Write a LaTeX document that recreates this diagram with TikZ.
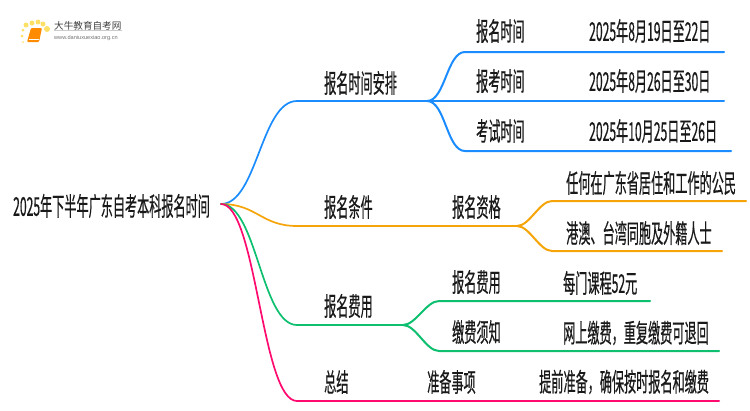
\documentclass[tikz,border=0pt]{standalone}
\usepackage{fontspec}
\setmainfont[FakeStretch=0.47,FakeBold=0.4]{Noto Sans CJK SC}
\newfontfamily\logofont{Noto Sans CJK SC}
\newfontfamily\urlfont{Liberation Sans}
\usetikzlibrary{arrows.meta}
\definecolor{bluebr}{HTML}{1A8CFF}
\definecolor{orangebr}{HTML}{F5A50A}
\definecolor{greenbr}{HTML}{0DBF6E}
\definecolor{pinkbr}{HTML}{FF0A6E}
\tikzset{
    lbl/.style={anchor=west,inner sep=0pt,text=black!90,font=\fontsize{25.8}{28}\selectfont},
    branch/.style={line width=2pt,line cap=round},
    trunk/.style={line width=1.7pt,line cap=round,out=0,in=180},
    twig/.style={branch,out=0,in=180,looseness=0.75},
    sun/.style={circle,fill=orange!40!yellow,opacity=0.6,inner sep=0pt}
}
\begin{document}
\begin{tikzpicture}[x=1pt,y=-1pt]
    \useasboundingbox (0,0) rectangle (750,410);
    % logo
    \node[sun,minimum size=5pt] (suna) at (26,25) {};
    \node[sun,minimum size=5pt] (sunb) at (32,23) {};
    \node[sun,minimum size=5pt] (sunc) at (38,22) {};
    \node[sun,minimum size=5pt] (sund) at (43,24) {};
    \node[sun,minimum size=6pt] (sune) at (47,29) {};
    \node[sun,minimum size=3pt] (sunf) at (23,30) {};
    \node[sun,minimum size=3pt] (sung) at (22,36) {};
    \node[sun,minimum size=2pt] (sunh) at (23,42) {};
    \fill[orange!90!yellow,rounded corners=1pt] (31,28) -- (42,28) -- (39,42) -- (27,42) -- cycle;
    \draw[white,line width=0.5pt] (29,39) -- (39,39);
    \node[anchor=west,inner sep=0pt,text=black!75,font=\logofont\fontsize{9.6}{10}\selectfont] (logoname) at (54,26) {大牛教育自考网};
    \node[anchor=west,inner sep=0pt,text=black!55,font=\urlfont\fontsize{5.6}{6}\selectfont] (logourl) at (54,38.5) {www.daniuxuexiao.org.cn};
    \draw[black!20,line width=0.5pt] (logoname.south west) -- (logoname.south east);
    % nodes
    \node[lbl] (root) at (13,206) {2025年下半年广东自考本科报名时间};
    \node[lbl] (timeplan) at (324,83) {报名时间安排};
    \node[lbl] (signup) at (476,31) {报名时间};
    \node[lbl] (signupdate) at (589,31) {2025年8月19日至22日};
    \node[lbl] (exam) at (476,81) {报考时间};
    \node[lbl] (examdate) at (589,81) {2025年8月26日至30日};
    \node[lbl] (test) at (476,131) {考试时间};
    \node[lbl] (testdate) at (589,131) {2025年10月25日至26日};
    \node[lbl] (cond) at (324,207) {报名条件};
    \node[lbl] (qual) at (452,207) {报名资格};
    \node[lbl] (quala) at (566,183) {任何在广东省居住和工作的公民};
    \node[lbl] (qualb) at (566,233) {港澳、台湾同胞及外籍人士};
    \node[lbl] (fee) at (324,306) {报名费用};
    \node[lbl] (feea) at (452,282) {报名费用};
    \node[lbl] (feeaval) at (563,283) {每门课程52元};
    \node[lbl] (feeb) at (452,332) {缴费须知};
    \node[lbl] (feebval) at (563,333) {网上缴费，重复缴费可退回};
    \node[lbl] (summ) at (324,382) {总结};
    \node[lbl] (prep) at (427,382) {准备事项};
    \node[lbl] (prepval) at (539,382) {提前准备，确保按时报名和缴费};
    % joints
    \coordinate (start) at (221,204);
    \coordinate (timeleft) at (297,101);
    \coordinate (timejoint) at (427,101);
    \coordinate (signupleft) at (465,52);
    \coordinate (signupend) at (724,52);
    \coordinate (examend) at (724,101);
    \coordinate (testleft) at (465,151);
    \coordinate (testend) at (731,151);
    \coordinate (condleft) at (297,226);
    \coordinate (condjoint) at (517,226);
    \coordinate (qualaleft) at (552,201);
    \coordinate (qualaend) at (746,201);
    \coordinate (qualbleft) at (552,251);
    \coordinate (qualbend) at (722,251);
    \coordinate (feeleft) at (297,325);
    \coordinate (feejoint) at (403,325);
    \coordinate (fealeft) at (439,301);
    \coordinate (feaend) at (650,301);
    \coordinate (feblleft) at (439,351);
    \coordinate (febend) at (719,351);
    \coordinate (summleft) at (297,401);
    \coordinate (summend) at (719,401);
    % paths
    \draw[trunk,bluebr,looseness=0.72] (start) to (timeleft);
    \draw[branch,bluebr] (timeleft) -- (timejoint);
    \draw[twig,bluebr] (timejoint) to (signupleft) -- (signupend);
    \draw[branch,bluebr] (timejoint) -- (examend);
    \draw[twig,bluebr] (timejoint) to (testleft) -- (testend);
    \draw[trunk,orangebr,looseness=1.16] (start) to (condleft);
    \draw[branch,orangebr] (condleft) -- (condjoint);
    \draw[twig,orangebr] (condjoint) to (qualaleft) -- (qualaend);
    \draw[twig,orangebr] (condjoint) to (qualbleft) -- (qualbend);
    \draw[trunk,greenbr,looseness=0.64] (start) to (feeleft);
    \draw[branch,greenbr] (feeleft) -- (feejoint);
    \draw[twig,greenbr] (feejoint) to (fealeft) -- (feaend);
    \draw[twig,greenbr] (feejoint) to (feblleft) -- (febend);
    \draw[trunk,pinkbr,looseness=0.43] (start) to (summleft);
    \draw[branch,pinkbr] (summleft) -- (summend);
\end{tikzpicture}
\end{document}
